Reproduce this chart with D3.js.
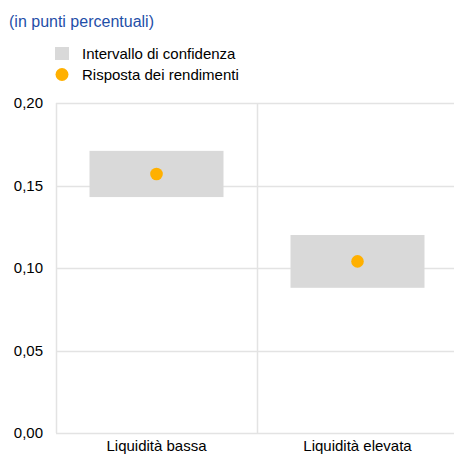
<!DOCTYPE html>
<html>
<head>
<meta charset="utf-8">
<script src="https://cdn.jsdelivr.net/npm/d3@7"></script>
<style>
  html, body { margin: 0; padding: 0; background: #fff; }
  svg { display: block; font-family: "Liberation Sans", Arial, sans-serif; }
</style>
</head>
<body>
<svg id="chart" width="454" height="454"></svg>
<script>
// Data
const categories = ["Liquidità bassa", "Liquidità elevata"];
const pointEstimate = [0.157, 0.104];
const ciLower = [0.143, 0.088];
const ciUpper = [0.171, 0.120];
const yTicks = [0, 0.05, 0.10, 0.15, 0.20];
const legendLabels = ["Intervallo di confidenza", "Risposta dei rendimenti"];
const subtitle = "(in punti percentuali)";

const svg = d3.select("#chart");
const margin = { left: 56, right: -4, top: 103, bottom: 21 };
const W = 454, H = 454;
const FONT = "Liberation Sans, Arial, sans-serif";

const x = d3.scaleBand()
  .domain(categories)
  .range([margin.left, W - margin.right])
  .paddingInner(0)
  .paddingOuter(0);

const y = d3.scaleLinear()
  .domain([0, 0.20])
  .range([H - margin.bottom, margin.top]);

const fmt = v => d3.format(".2f")(v).replace(".", ",");

const gridColor = "#e3e3e3";

// Horizontal grid lines
svg.append("g")
  .selectAll("line")
  .data(yTicks)
  .join("line")
  .attr("x1", margin.left)
  .attr("x2", W)
  .attr("y1", d => Math.round(y(d)) + 0.5)
  .attr("y2", d => Math.round(y(d)) + 0.5)
  .attr("stroke", gridColor)
  .attr("stroke-width", 1.5);

// Vertical separators (left edge and between categories)
const seps = [margin.left].concat(categories.slice(1).map(c => x(c)));
svg.append("g")
  .selectAll("line")
  .data(seps)
  .join("line")
  .attr("x1", d => Math.round(d) + 0.5)
  .attr("x2", d => Math.round(d) + 0.5)
  .attr("y1", y(0.20))
  .attr("y2", y(0))
  .attr("stroke", gridColor)
  .attr("stroke-width", 1.5);

// Y axis labels
const yAxis = d3.axisLeft(y).tickValues(yTicks).tickFormat(fmt).tickSize(0).tickPadding(13);
const ya = svg.append("g").attr("transform", `translate(${margin.left},0)`).call(yAxis);
ya.attr("font-size", null).attr("font-family", null);
ya.select(".domain").remove();
ya.selectAll("text").style("font-size", "15px").attr("fill", "#000")
  .style("font-family", FONT);

// X axis labels
const xAxis = d3.axisBottom(x).tickSize(0).tickPadding(7);
const xa = svg.append("g").attr("transform", `translate(0,${y(0)})`).call(xAxis);
xa.attr("font-size", null).attr("font-family", null);
xa.select(".domain").remove();
xa.selectAll("text").style("font-size", "15px").attr("fill", "#000")
  .style("font-family", FONT);

// Confidence interval boxes
const boxW = x.bandwidth() * 2 / 3;
svg.append("g")
  .selectAll("rect")
  .data(categories)
  .join("rect")
  .attr("x", (d) => x(d) + (x.bandwidth() - boxW) / 2)
  .attr("width", boxW)
  .attr("y", (d, i) => y(ciUpper[i]))
  .attr("height", (d, i) => y(ciLower[i]) - y(ciUpper[i]))
  .attr("fill", "#d9d9d9");

// Point estimates
svg.append("g")
  .selectAll("circle")
  .data(categories)
  .join("circle")
  .attr("cx", d => x(d) + x.bandwidth() / 2)
  .attr("cy", (d, i) => y(pointEstimate[i]))
  .attr("r", 6.3)
  .attr("fill", "#ffb000");

// Subtitle
svg.append("text")
  .attr("x", 9)
  .attr("y", 27)
  .style("font-size", "16px")
  .style("font-family", FONT)
  .attr("fill", "#1f4fa8")
  .text(subtitle);

// Legend
const lg = svg.append("g");
lg.append("rect").attr("x", 55).attr("y", 47).attr("width", 14).attr("height", 13).attr("fill", "#d9d9d9");
lg.append("circle").attr("cx", 62).attr("cy", 74.5).attr("r", 6.5).attr("fill", "#ffb000");
lg.selectAll("text")
  .data(legendLabels)
  .join("text")
  .attr("x", 82)
  .attr("y", (d, i) => 59 + i * 21)
  .style("font-size", "15px")
  .style("font-family", FONT)
  .attr("fill", "#000")
  .text(d => d);
</script>
</body>
</html>
